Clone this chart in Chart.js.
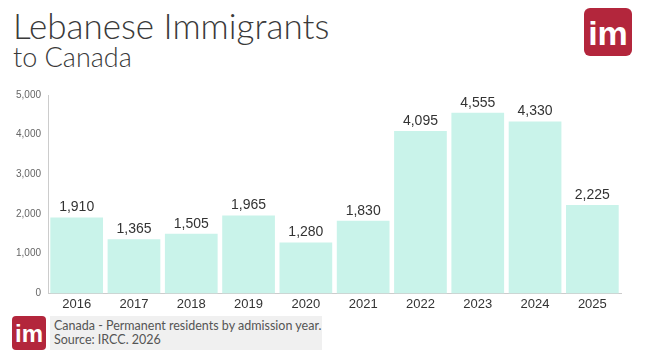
<!DOCTYPE html>
<html>
<head>
<meta charset="utf-8">
<script src="https://cdn.jsdelivr.net/npm/chart.js@4.4.1/dist/chart.umd.min.js"></script>
<style>
  body { margin: 0; width: 645px; height: 363px; background: #fff; position: relative; overflow: hidden; font-family: "Lato", "DejaVu Sans", sans-serif; }
  .title { position: absolute; left: 13px; top: 7px; color: #3a3a3a; font-weight: 300; }
  .title .l1 { font-size: 35px; line-height: 36px; }
  .title .l2 { font-size: 27px; line-height: 28px; }
  .logo { position: absolute; background: #b3263c; border-radius: 6px; color: #fff; font-weight: 700; font-family: "Liberation Sans", Arial, sans-serif; text-align: center; }
  .logo.big { left: 584px; top: 8px; width: 48px; height: 48px; font-size: 34px; line-height: 50px; }
  .logo.small { left: 12px; top: 316px; width: 34px; height: 34px; font-size: 24px; line-height: 36px; border-radius: 4px; }
  .foot { position: absolute; left: 50px; top: 316px; width: 272px; height: 34px; background: #f0f0f0; color: #555; font-size: 12.5px; line-height: 14px; padding: 3px 0 0 4px; box-sizing: border-box; white-space: nowrap; }
  #wrap { position: absolute; left: 0; top: 80px; width: 645px; height: 235px; }
</style>
</head>
<body>
<div class="title"><div class="l1">Lebanese Immigrants</div><div class="l2">to Canada</div></div>
<div class="logo big">im</div>
<div id="wrap"><canvas id="chart"></canvas></div>
<div class="logo small">im</div>
<div class="foot">Canada - Permanent residents by admission year.<br>Source: IRCC. 2026</div>
<script>
const years = ["2016", "2017", "2018", "2019", "2020", "2021", "2022", "2023", "2024", "2025"];
const residents = [1910, 1365, 1505, 1965, 1280, 1830, 4095, 4555, 4330, 2225];
const yTicks = [0, 1000, 2000, 3000, 4000, 5000];

const valueLabels = {
    id: "valueLabels",
    afterDatasetsDraw(chart) {
        const ctx = chart.ctx;
        const meta = chart.getDatasetMeta(0);
        ctx.save();
        ctx.font = "14px 'Liberation Sans', Arial, sans-serif";
        ctx.fillStyle = "#333";
        ctx.textAlign = "center";
        ctx.textBaseline = "bottom";
        meta.data.forEach((bar, i) => {
            ctx.fillText(residents[i].toLocaleString("en-US"), bar.x, bar.y - 3);
        });
        ctx.restore();
    }
};

new Chart(document.getElementById("chart"), {
    type: "bar",
    data: {
        labels: years,
        datasets: [{
            data: residents,
            backgroundColor: "#c9f3ea",
            categoryPercentage: 1,
            barPercentage: 0.92
        }]
    },
    options: {
        responsive: true,
        maintainAspectRatio: false,
        animation: false,
        layout: { padding: { top: 15, right: 24, left: 9, bottom: 0 } },
        scales: {
            y: {
                min: 0,
                max: 5000,
                afterBuildTicks: axis => { axis.ticks = yTicks.map(v => ({ value: v })); },
                grid: { display: false, drawTicks: false },
                border: { color: "#ccc" },
                ticks: {
                    padding: 7,
                    color: "#666",
                    font: { size: 10, family: "'Liberation Sans', Arial, sans-serif" },
                    callback: v => v.toLocaleString("en-US")
                }
            },
            x: {
                grid: { display: false, drawTicks: false },
                border: { color: "#ccc" },
                ticks: {
                    padding: 3,
                    color: "#333",
                    font: { size: 13, family: "'Liberation Sans', Arial, sans-serif" }
                }
            }
        },
        plugins: {
            legend: { display: false },
            tooltip: { enabled: false }
        }
    },
    plugins: [valueLabels]
});
</script>
</body>
</html>
